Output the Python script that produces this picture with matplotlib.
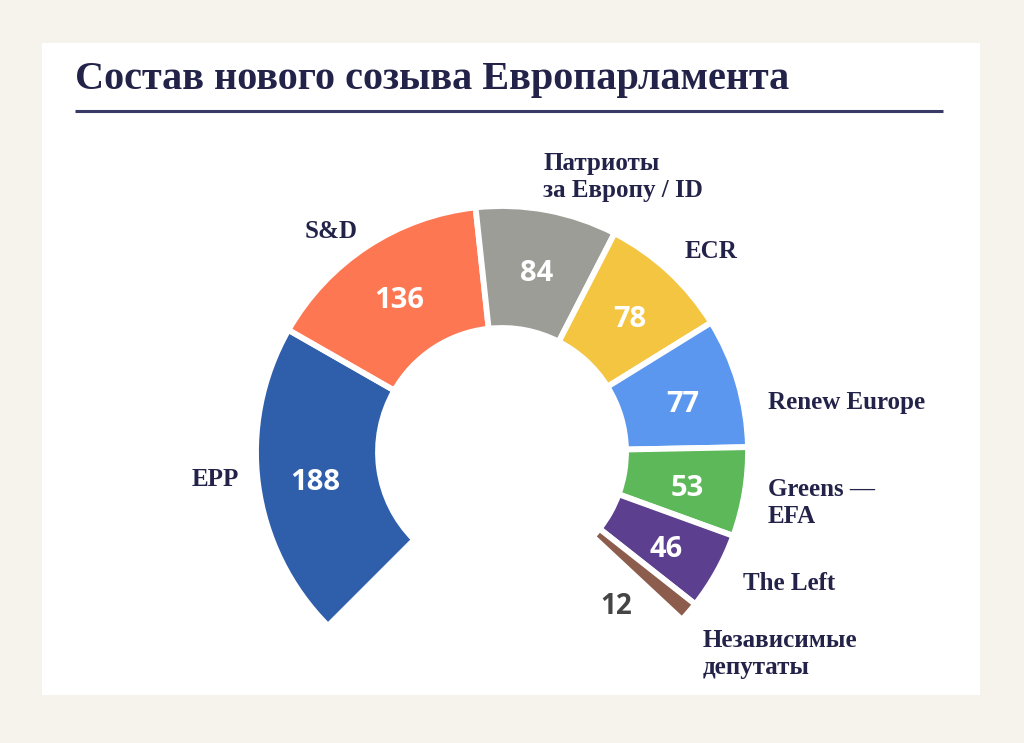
import numpy as np
import matplotlib.pyplot as plt
from matplotlib.patches import Wedge, Rectangle

# seats per group, in drawing order (clockwise from bottom-left)
parties = ["EPP", "S&D", "Патриоты\nза Европу / ID", "ECR", "Renew Europe",
           "Greens —\nEFA", "The Left", "Независимые\nдепутаты"]
seats = [188, 136, 84, 78, 77, 53, 46, 12]
colors = ["#2f5fab", "#fd7753", "#9d9d98", "#f4c541", "#5b96ef",
          "#5db859", "#5c3f8e", "#8c5d4c"]

W, H = 1024, 743
fig = plt.figure(figsize=(W / 100, H / 100), dpi=100)
fig.patch.set_facecolor("#f6f3ec")
ax = fig.add_axes([0, 0, 1, 1])
ax.set_xlim(0, W)
ax.set_ylim(0, H)
ax.set_aspect("equal")
ax.axis("off")

# white card
ax.add_patch(Rectangle((42, H - 695), 938, 652, facecolor="white",
                       edgecolor="none", zorder=0))

navy = "#23234a"
serif = "Liberation Serif"

# title + rule
ax.text(75, H - 80, "Состав нового созыва Европарламента", fontsize=29,
        fontweight="bold", family=serif, color=navy, va="center", ha="left")
ax.plot([75, 943], [H - 111, H - 111], color="#3a3a66", lw=2.2,
        solid_capstyle="butt")

# partial donut
cx, cy = 502, H - 452
r_out, r_in = 246, 124
start = 225.0
span = 268.0
k = span / sum(seats)

cum = 0
for name, v, c in zip(parties, seats, colors):
    t2 = start - cum * k
    t1 = t2 - v * k
    ax.add_patch(Wedge((cx, cy), r_out, t1, t2, width=r_out - r_in,
                       facecolor=c, edgecolor="white", lw=4.2, zorder=2))
    mid = np.radians((t1 + t2) / 2)
    if v > 20:
        rr = 188
        ax.text(cx + rr * np.cos(mid), cy + rr * np.sin(mid) - 6, str(v),
                fontsize=21, fontweight="bold", family="Open Sans",
                color="white", ha="center", va="center", zorder=3)
    else:
        ang = mid - np.radians(13)
        rr = 192
        ax.text(cx + rr * np.cos(ang), cy + rr * np.sin(ang), str(v),
                fontsize=20, fontweight="bold", family="Open Sans",
                color="#454545", ha="center", va="center", zorder=3)
    cum += v

# group names
label_pos = [(192, 480), (305, 232), (543, 177), (685, 252), (768, 402),
             (768, 503), (743, 583), (703, 654)]
for name, (px, py) in zip(parties, label_pos):
    ax.text(px, H - py, name, fontsize=18, fontweight="bold", family=serif,
            color=navy, ha="left", va="center", linespacing=1.25)

fig.savefig("out.png", dpi=100, facecolor=fig.get_facecolor())
